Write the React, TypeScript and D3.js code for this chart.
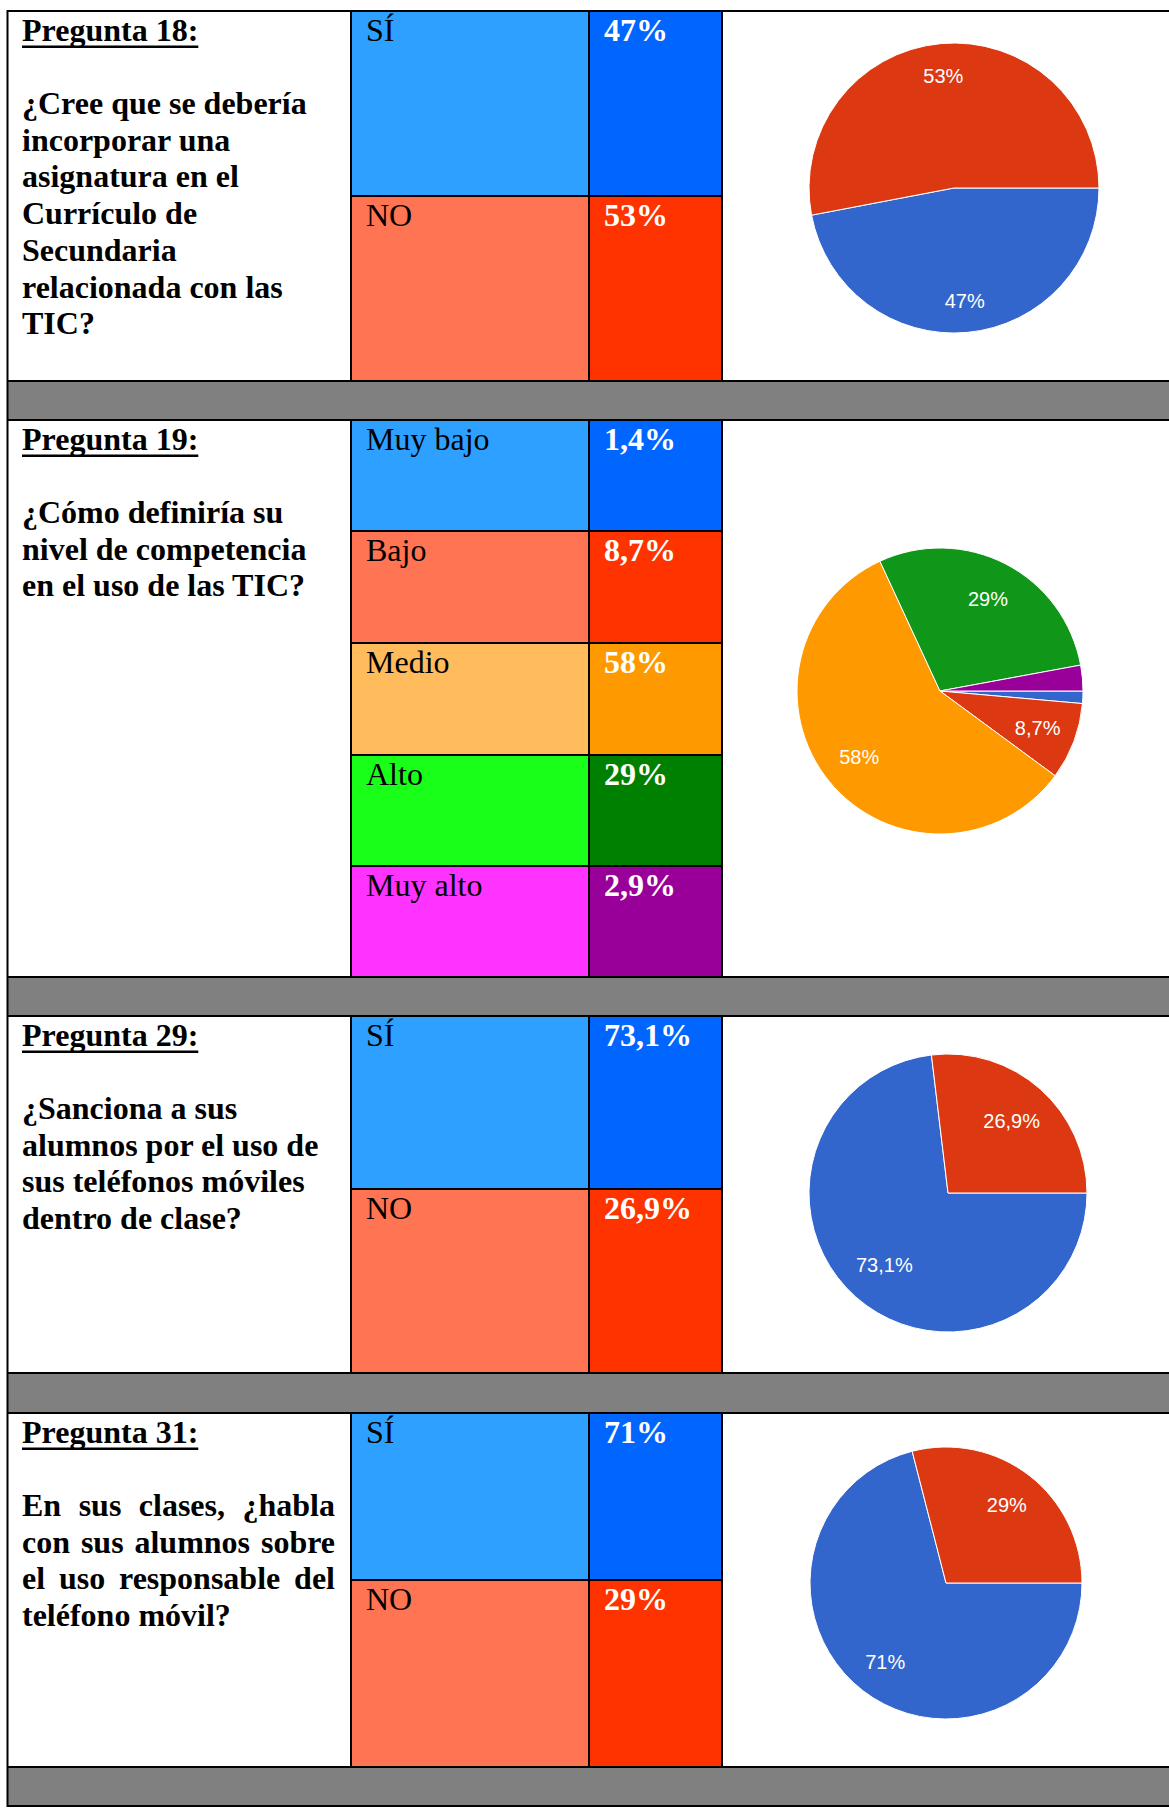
import React from "react";
import * as d3 from "d3";

// ---------- DATA ----------
const questionNumbers = [18, 19, 29, 31];
const questionTexts: string[][] = [
  ["¿Cree que se debería", "incorporar una", "asignatura en el", "Currículo de", "Secundaria", "relacionada con las", "TIC?"],
  ["¿Cómo definiría su", "nivel de competencia", "en el uso de las TIC?"],
  ["¿Sanciona a sus", "alumnos por el uso de", "sus teléfonos móviles", "dentro de clase?"],
  ["En sus clases, ¿habla", "con sus alumnos sobre", "el uso responsable del", "teléfono móvil?"],
];
const q18Options = ["SÍ", "NO"];
const q18Values = [47, 53];
const q19Options = ["Muy bajo", "Bajo", "Medio", "Alto", "Muy alto"];
const q19Values = [1.4, 8.7, 58, 29, 2.9];
const q29Options = ["SÍ", "NO"];
const q29Values = [73.1, 26.9];
const q31Options = ["SÍ", "NO"];
const q31Values = [71, 29];

// ---------- STYLE ----------
const cellColors: Record<string, [string, string]> = {
  "SÍ": ["#2ea0ff", "#0066ff"],
  "NO": ["#ff7452", "#ff3300"],
  "Muy bajo": ["#2ea0ff", "#0066ff"],
  "Bajo": ["#ff7452", "#ff3300"],
  "Medio": ["#ffbb5c", "#ff9900"],
  "Alto": ["#1aff1a", "#008000"],
  "Muy alto": ["#ff33ff", "#990099"],
};
const pieColors = ["#3366cc", "#dc3912", "#ff9900", "#109618", "#990099"];

const sections = [
  { num: questionNumbers[0], text: questionTexts[0], options: q18Options, values: q18Values, justify: false },
  { num: questionNumbers[1], text: questionTexts[1], options: q19Options, values: q19Values, justify: false },
  { num: questionNumbers[2], text: questionTexts[2], options: q29Options, values: q29Values, justify: false },
  { num: questionNumbers[3], text: questionTexts[3], options: q31Options, values: q31Values, justify: true },
];

// ---------- LAYOUT ----------
const W = 1169;
const H = 1809;
const X0 = 7.5;
const XLABEL = 351;
const XPCT = 589;
const XPIE = 722;
const BAND = 39;
const layouts = [
  { rows: [11, 196, 381], cx: 954, cy: 188, r: 145, lr: 0.78 },
  { rows: [420, 531, 643, 755, 866, 977], cx: 940, cy: 691, r: 143, lr: 0.73 },
  { rows: [1016, 1189, 1373], cx: 948, cy: 1193, r: 139, lr: 0.69 },
  { rows: [1413, 1580, 1767], cx: 946, cy: 1583, r: 136, lr: 0.73 },
];

const SERIF = "'Liberation Serif', 'Times New Roman', serif";
const SANS = "'Liberation Sans', Arial, sans-serif";
const FS = 32;
const LINE = 36.7;

let _ctx: CanvasRenderingContext2D | null = null;
function measure(t: string, font: string): number {
  if (!_ctx) _ctx = document.createElement("canvas").getContext("2d");
  _ctx!.font = font;
  return _ctx!.measureText(t).width;
}

const fmt = (v: number) => `${String(v).replace(".", ",")}%`;

export default function App() {
  const boldFont = `bold ${FS}px ${SERIF}`;
  const textX = 22;
  const textRight = 335;

  const fills: React.ReactNode[] = [];
  const lines: React.ReactNode[] = [];
  const texts: React.ReactNode[] = [];
  const pies: React.ReactNode[] = [];

  sections.forEach((sec, si) => {
    const L = layouts[si];
    const top = L.rows[0];
    const bottom = L.rows[L.rows.length - 1];

    // gray band below section
    fills.push(<rect key={`band${si}`} x={X0} y={bottom} width={W - X0} height={BAND} fill="#808080" />);

    // option cells
    sec.options.forEach((opt, i) => {
      const y0 = L.rows[i];
      const y1 = L.rows[i + 1];
      const [c1, c2] = cellColors[opt];
      fills.push(<rect key={`c1${si}${i}`} x={XLABEL} y={y0} width={XPCT - XLABEL} height={y1 - y0} fill={c1} />);
      fills.push(<rect key={`c2${si}${i}`} x={XPCT} y={y0} width={XPIE - XPCT} height={y1 - y0} fill={c2} />);
      texts.push(
        <text key={`ol${si}${i}`} x={366} y={y0 + 29.5} fontFamily={SERIF} fontSize={FS} fill="#000">{opt}</text>
      );
      texts.push(
        <text key={`ov${si}${i}`} x={604} y={y0 + 30} fontFamily={SERIF} fontSize={FS} fontWeight="bold" fill="#fff">{fmt(sec.values[i])}</text>
      );
      if (i > 0) {
        lines.push(<line key={`d${si}${i}`} x1={XLABEL} x2={XPIE} y1={y0} y2={y0} stroke="#000" strokeWidth={2} />);
      }
    });

    // horizontal borders
    lines.push(<line key={`ht${si}`} x1={X0} x2={W} y1={top} y2={top} stroke="#000" strokeWidth={2} />);
    lines.push(<line key={`hb${si}`} x1={X0} x2={W} y1={bottom} y2={bottom} stroke="#000" strokeWidth={2} />);
    [XLABEL, XPCT, XPIE].forEach((x, k) =>
      lines.push(<line key={`v${si}${k}`} x1={x} x2={x} y1={top} y2={bottom} stroke="#000" strokeWidth={2} />)
    );

    // title
    const title = `Pregunta ${sec.num}:`;
    const tw = measure(title, boldFont);
    texts.push(
      <text key={`t${si}`} x={textX} y={top + 30} fontFamily={SERIF} fontSize={FS} fontWeight="bold" fill="#000">{title}</text>
    );
    texts.push(<rect key={`u${si}`} x={textX} y={top + 34.5} width={tw} height={2.5} fill="#000" />);

    // question text
    sec.text.forEach((ln, li) => {
      const y = top + 103 + li * LINE;
      if (sec.justify && li < sec.text.length - 1) {
        const words = ln.split(" ");
        const ws = words.map((w) => measure(w, boldFont));
        const gap = (textRight - textX - d3.sum(ws)) / (words.length - 1);
        let x = textX;
        texts.push(
          <text key={`q${si}${li}`} y={y} fontFamily={SERIF} fontSize={FS} fontWeight="bold" fill="#000">
            {words.map((w, wi) => {
              const el = <tspan key={wi} x={x}>{w}</tspan>;
              x += ws[wi] + gap;
              return el;
            })}
          </text>
        );
      } else {
        texts.push(
          <text key={`q${si}${li}`} x={textX} y={y} fontFamily={SERIF} fontSize={FS} fontWeight="bold" fill="#000">{ln}</text>
        );
      }
    });

    // pie
    const pieGen = d3.pie<number>().sort(null).value((d) => d).startAngle(Math.PI / 2).endAngle(Math.PI / 2 + 2 * Math.PI);
    const arcs = pieGen(sec.values);
    const arcGen = d3.arc<d3.PieArcDatum<number>>().innerRadius(0).outerRadius(L.r);
    const labelArc = d3.arc<d3.PieArcDatum<number>>().innerRadius(L.r * L.lr).outerRadius(L.r * L.lr);
    pies.push(
      <g key={`pie${si}`} transform={`translate(${L.cx},${L.cy})`}>
        {arcs.map((a, i) => (
          <path key={i} d={arcGen(a) || ""} fill={pieColors[i]} stroke="#fff" strokeWidth={1} />
        ))}
        {arcs.map((a, i) => {
          if (a.data < 5) return null;
          const [lx, ly] = labelArc.centroid(a);
          return (
            <text key={`l${i}`} x={lx} y={ly} dy="0.36em" textAnchor="middle" fontFamily={SANS} fontSize={20} fill="#fff">
              {fmt(a.data)}
            </text>
          );
        })}
      </g>
    );
  });

  // left border and final bottom line
  lines.push(<line key="left" x1={X0} x2={X0} y1={10} y2={1807} stroke="#000" strokeWidth={2} />);
  const lastBottom = layouts[layouts.length - 1].rows.slice(-1)[0] + BAND;
  lines.push(<line key="last" x1={X0} x2={W} y1={lastBottom} y2={lastBottom} stroke="#000" strokeWidth={2} />);

  return (
    <svg width={W} height={H} style={{ position: "absolute", left: 0, top: 0, background: "#fff" }}>
      <rect x={0} y={0} width={W} height={H} fill="#fff" />
      {fills}
      {pies}
      {lines}
      {texts}
    </svg>
  );
}
